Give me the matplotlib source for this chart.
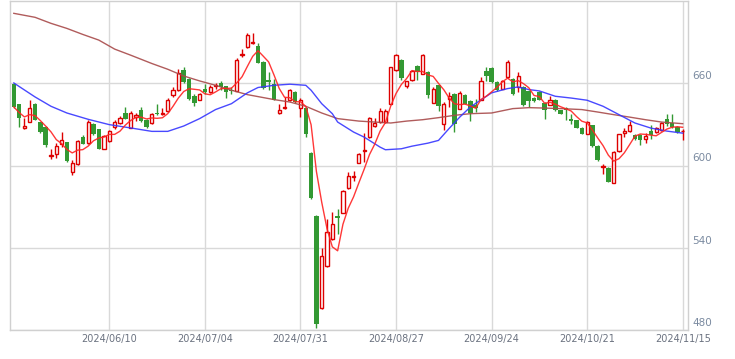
import numpy as np
import pandas as pd
import matplotlib
matplotlib.use("Agg")
import matplotlib.pyplot as plt
import matplotlib.transforms as mtransforms

# daily candles, 2024/05/15 .. 2024/11/15 (index = trading day)
opens = [659.3, 644.6, 627.7, 632.0, 644.6, 631.7, 628.0, 607.0, 608.3, 615.9,
         617.1, 595.1, 601.2, 620.5, 616.3, 630.0, 626.3, 612.2, 618.0, 628.0,
         631.2, 638.3, 627.6, 635.4, 640.2, 633.4, 631.2, 638.3, 637.8, 639.5,
         651.2, 654.9, 670.0, 663.4, 650.5, 648.1, 655.6, 653.7, 658.0, 660.2,
         657.8, 655.2, 654.4, 680.5, 686.6, 689.4, 687.3, 675.6, 662.2, 659.3,
         638.3, 642.2, 647.6, 653.6, 642.2, 642.2, 609.3, 563.4, 495.9, 526.6,
         546.4, 563.4, 565.4, 583.7, 591.5, 602.0, 610.5, 620.7, 628.8, 631.7,
         631.7, 645.1, 669.5, 677.3, 658.3, 662.7, 672.4, 667.1, 668.3, 645.9,
         658.5, 630.5, 648.3, 652.5, 641.5, 651.7, 647.1, 643.9, 648.1, 669.0,
         670.8, 661.0, 656.1, 664.6, 663.4, 657.3, 657.3, 654.0, 649.3, 653.5,
         645.6, 644.4, 648.1, 640.2, 642.2, 634.2, 632.9, 627.3, 623.2, 629.3,
         614.1, 599.2, 598.5, 587.3, 610.5, 623.9, 625.1, 622.5, 622.5, 619.5,
         625.1, 624.4, 625.6, 633.7, 631.2, 628.0, 624.9]
highs = [660.0, 645.0, 635.0, 648.0, 645.5, 632.0, 628.5, 612.0, 616.3, 624.4,
         617.5, 603.7, 618.5, 622.0, 633.4, 631.0, 626.5, 622.0, 626.0, 632.9,
         636.0, 642.7, 639.5, 638.3, 643.0, 634.0, 638.5, 644.6, 642.2, 649.0,
         657.0, 670.7, 672.0, 664.0, 652.0, 653.0, 659.3, 658.5, 660.5, 662.0,
         658.0, 657.3, 678.7, 684.9, 697.0, 697.0, 689.0, 676.0, 668.3, 663.4,
         645.1, 650.0, 655.5, 654.0, 649.0, 643.0, 610.0, 564.0, 539.8, 561.0,
         565.8, 568.3, 582.0, 595.0, 596.3, 609.0, 624.0, 635.5, 634.4, 642.2,
         641.0, 672.0, 681.2, 678.0, 662.0, 669.5, 673.0, 681.7, 669.0, 657.0,
         659.0, 646.0, 653.6, 653.0, 654.0, 652.5, 648.0, 648.8, 664.6, 671.5,
         671.5, 661.5, 662.2, 676.8, 664.0, 668.0, 658.0, 655.0, 650.0, 654.0,
         646.0, 651.0, 648.5, 640.5, 642.7, 637.8, 633.4, 627.8, 632.2, 629.8,
         614.6, 601.2, 599.0, 610.7, 623.2, 627.3, 632.2, 623.0, 623.0, 624.0,
         629.8, 628.0, 631.7, 637.8, 637.3, 628.5, 626.9]
lows = [642.0, 628.0, 626.5, 631.5, 633.0, 624.0, 613.5, 605.0, 605.3, 613.4,
        602.5, 593.4, 600.5, 615.5, 616.0, 622.0, 612.0, 612.0, 617.5, 626.9,
        630.5, 634.0, 627.0, 632.4, 632.0, 627.5, 630.5, 636.6, 636.6, 639.0,
        650.3, 654.5, 660.5, 648.0, 643.5, 647.5, 652.5, 653.0, 655.6, 655.1,
        649.4, 652.5, 654.0, 679.5, 686.0, 688.5, 674.5, 656.0, 654.9, 647.5,
        637.8, 641.5, 647.0, 645.5, 635.5, 620.7, 575.5, 481.7, 495.5, 526.0,
        546.0, 550.0, 565.0, 583.0, 589.0, 601.5, 602.4, 620.0, 628.3, 631.2,
        631.0, 644.6, 669.0, 662.2, 656.6, 662.0, 662.7, 666.5, 649.0, 645.4,
        640.0, 625.6, 642.7, 624.4, 641.0, 644.5, 632.5, 639.0, 647.5, 662.0,
        660.5, 654.5, 655.5, 664.0, 651.5, 653.6, 643.5, 643.0, 646.5, 647.5,
        634.2, 644.0, 639.5, 637.3, 633.4, 630.5, 627.0, 622.7, 622.7, 613.5,
        603.2, 593.9, 587.8, 587.0, 610.0, 620.5, 624.6, 618.5, 614.6, 616.3,
        619.5, 624.0, 625.0, 629.0, 627.5, 624.0, 618.8]
closes = [642.7, 634.6, 629.0, 642.2, 633.5, 624.4, 614.6, 608.0, 613.9, 618.8,
          603.2, 602.0, 618.0, 615.9, 631.5, 622.7, 612.2, 621.7, 625.4, 631.5,
          634.4, 634.2, 638.6, 636.6, 632.4, 628.0, 637.8, 637.3, 638.6, 647.6,
          654.9, 667.8, 660.9, 648.8, 645.6, 652.5, 653.6, 657.6, 659.0, 657.3,
          653.7, 654.4, 676.8, 681.7, 695.1, 690.2, 674.9, 656.6, 661.0, 648.1,
          640.2, 643.0, 654.9, 646.3, 648.1, 623.2, 576.1, 484.6, 534.1, 551.2,
          557.3, 561.7, 581.5, 592.7, 592.5, 608.5, 611.3, 634.9, 631.2, 639.5,
          640.0, 671.5, 680.5, 663.9, 661.5, 668.8, 668.3, 680.5, 651.2, 656.1,
          643.4, 645.1, 650.5, 630.0, 653.2, 645.1, 638.6, 642.0, 661.7, 665.3,
          661.0, 654.9, 661.7, 675.6, 652.0, 665.4, 643.9, 647.0, 647.1, 648.0,
          640.8, 647.6, 640.2, 637.8, 640.5, 632.5, 627.6, 623.2, 631.7, 614.1,
          603.7, 599.8, 588.3, 610.2, 622.7, 625.1, 629.8, 619.0, 618.3, 621.2,
          622.5, 627.3, 631.2, 630.5, 628.0, 624.4, 625.3]

# 25-day average (blue) at sample days
ma25_day = [0, 4, 7, 10, 14, 18, 22, 26, 29, 32, 35, 38, 41, 44, 46, 49, 52, 55,
            56, 58, 60, 61, 64, 66, 69, 70, 73, 75, 78, 80, 82, 84, 86, 90, 93,
            95, 97, 99, 102, 105, 108, 111, 114, 117, 120, 123, 126]
ma25_val = [660.2, 650.0, 643.2, 638.3, 633.7, 629.8, 627.4, 624.9, 624.9, 628.8,
            634.2, 640.8, 645.1, 653.0, 656.9, 658.5, 659.3, 658.5, 654.9, 645.1,
            637.8, 631.7, 624.4, 620.7, 613.4, 611.5, 612.2, 614.1, 616.3, 618.3,
            627.0, 635.3, 642.7, 653.0, 656.1, 657.3, 655.4, 654.4, 650.5, 649.2,
            647.6, 643.2, 637.1, 631.0, 627.3, 625.1, 623.6]

# 75-day average (brown)
ma75_day = [0, 4, 7, 10, 13, 16, 19, 22, 26, 29, 32, 35, 38, 41, 44, 49, 52, 55,
            58, 61, 65, 68, 71, 74, 77, 80, 83, 86, 90, 94, 97, 100, 103, 107,
            110, 113, 116, 119, 122, 126]
ma75_val = [711.0, 708.1, 703.7, 700.0, 695.6, 691.5, 684.9, 680.5, 674.4, 670.2,
            665.3, 661.7, 658.5, 654.9, 651.7, 648.1, 646.3, 643.2, 638.3, 634.2,
            632.4, 631.7, 631.0, 632.4, 633.4, 634.9, 636.6, 637.8, 638.3, 641.5,
            642.2, 641.9, 641.5, 640.8, 639.0, 637.1, 635.3, 633.4, 631.7, 630.5]

tick_days = [18, 36, 54, 72, 90, 108, 126]
tick_labels = ["2024/06/10", "2024/07/04", "2024/07/31", "2024/08/27",
               "2024/09/24", "2024/10/21", "2024/11/15"]
price_labels = [480, 540, 600, 660]

UP = "#dd0000"
DOWN = "#339933"

o = np.array(opens)
h = np.array(highs)
l = np.array(lows)
c = np.array(closes)
x = np.arange(len(o))
up = c >= o
ma5 = pd.Series(c).rolling(5, min_periods=1).mean()

fig = plt.figure(figsize=(7.35, 3.59), dpi=100)
ax = fig.add_axes([10 / 735, 29 / 359, 678 / 735, 329 / 359])

# wicks
ax.vlines(x, l, h, colors=np.where(up, UP, DOWN), linewidth=1.0, zorder=2)
# falling days: filled green
ax.bar(x[~up], (o - c)[~up], bottom=c[~up], width=0.85, color=DOWN,
       linewidth=0, zorder=3)
# rising days: hollow red
ax.bar(x[up], np.maximum((c - o)[up], 0.4), bottom=o[up], width=0.6,
       facecolor="white", edgecolor=UP, linewidth=1.0, zorder=3)

ax.plot(ma75_day, ma75_val, color="#a84a4a", linewidth=1.0, alpha=0.9, zorder=4)
ax.plot(ma25_day, ma25_val, color="#3535ff", linewidth=1.0, alpha=0.9, zorder=4)
ax.plot(x, ma5, color="#ff2222", linewidth=1.0, alpha=0.9, zorder=5)

ax.set_xlim(-0.72, 127.0)
ax.set_ylim(480, 720)
ax.set_xticks(tick_days)
ax.set_xticklabels(tick_labels)
ax.set_yticks(price_labels)
ax.grid(color="#d9d9d9", linewidth=1.0, zorder=0)
ax.set_axisbelow(True)
ax.tick_params(axis="x", length=0, pad=3, labelsize=7, labelcolor="#6b7280")
ax.tick_params(axis="y", length=0, left=False, labelleft=False)
for s in ax.spines.values():
    s.set_color("#d0d0d0")
    s.set_linewidth(1.0)

trans = mtransforms.blended_transform_factory(ax.transAxes, ax.transData)
for v in price_labels:
    ax.text(1.006, v + 1.5, str(v), transform=trans, ha="left", va="bottom",
            fontsize=7.5, color="#7a8aa0")

fig.savefig("out.png", dpi=100)
